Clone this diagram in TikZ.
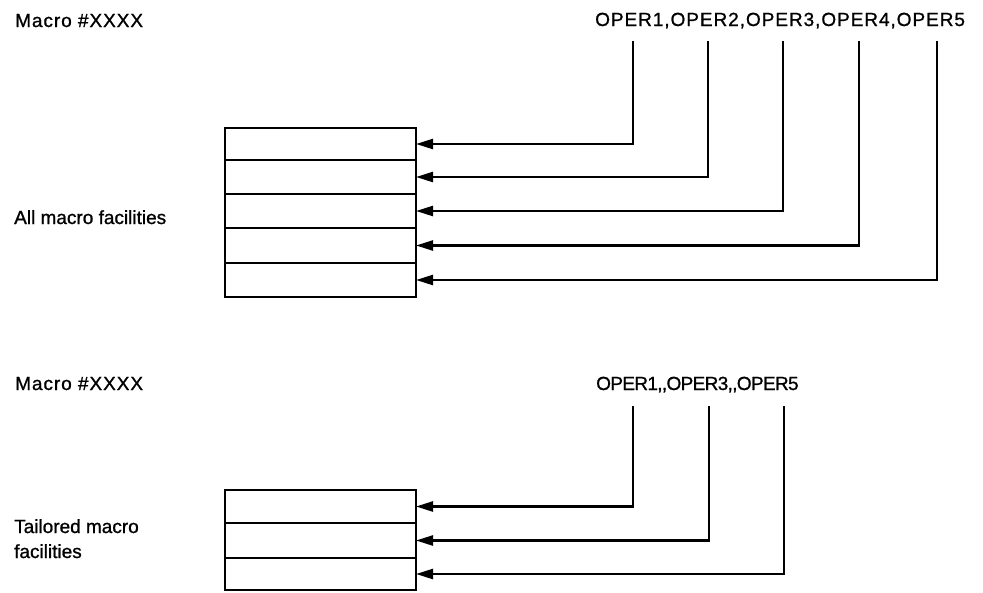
\documentclass[tikz,border=0pt]{standalone}
\usepackage{fontspec}
\setmainfont{Liberation Sans}[FakeBold=1]
\newfontfamily\plainfont[FakeBold=1]{Liberation Sans}
\newfontfamily\widefont[LetterSpace=5,FakeBold=1]{Liberation Sans}
\newfontfamily\tightfont[LetterSpace=-3.5,FakeBold=1]{Liberation Sans}
\usetikzlibrary{arrows.meta}
\begin{document}
\begin{tikzpicture}[x=1pt,y=-1pt,
  lbl/.style={anchor=base west,inner sep=0pt,font=\fontsize{19}{23}\plainfont},
  wlbl/.style={anchor=base west,inner sep=0pt,font=\fontsize{19}{23}\widefont},
  tlbl/.style={anchor=base west,inner sep=0pt,font=\fontsize{19}{23}\tightfont},
  row/.style={draw,line width=2.4pt,minimum width=191pt,inner sep=0pt,outer sep=0pt},
  conn/.style={line width=2.4pt,-{Triangle[length=17pt,width=10pt]}}]
\useasboundingbox (0,0) rectangle (983,592);
% top part
\node[wlbl] (m1) at (15,27) {Macro \#XXXX};
\node[wlbl] (ops) at (595,26) {OPER1,OPER2,OPER3,OPER4,OPER5};
\node[lbl] (all) at (14,224) {All macro facilities};
\node[row,minimum height=32pt] (r1) at (320.5,144) {};
\node[row,minimum height=34pt] (r2) at (320.5,177) {};
\node[row,minimum height=34pt] (r3) at (320.5,211) {};
\node[row,minimum height=35pt] (r4) at (320.5,245.5) {};
\node[row,minimum height=34pt] (r5) at (320.5,280) {};
\coordinate (a1) at (633,41);
\coordinate (a2) at (708,41);
\coordinate (a3) at (783,41);
\coordinate (a4) at (859,41);
\coordinate (a5) at (937,41);
\draw[conn] (a1) |- (r1.east);
\draw[conn] (a2) |- (r2.east);
\draw[conn] (a3) |- (r3.east);
\draw[conn] (a4) |- (r4.east);
\draw[conn] (a5) |- (r5.east);
% bottom part
\node[wlbl] (m2) at (15,390) {Macro \#XXXX};
\node[tlbl] (ops2) at (596,390) {OPER1,,OPER3,,OPER5};
\node[lbl] (tl1) at (14,533) {Tailored macro};
\node[lbl] (tl2) at (14,558) {facilities};
\node[row,minimum height=33pt] (s1) at (320.5,506.5) {};
\node[row,minimum height=35pt] (s2) at (320.5,540.5) {};
\node[row,minimum height=32pt] (s3) at (320.5,574) {};
\coordinate (b1) at (633,406);
\coordinate (b2) at (709,406);
\coordinate (b3) at (784,406);
\draw[conn] (b1) |- (s1.east);
\draw[conn] (b2) |- (s2.east);
\draw[conn] (b3) |- (s3.east);
\end{tikzpicture}
\end{document}
